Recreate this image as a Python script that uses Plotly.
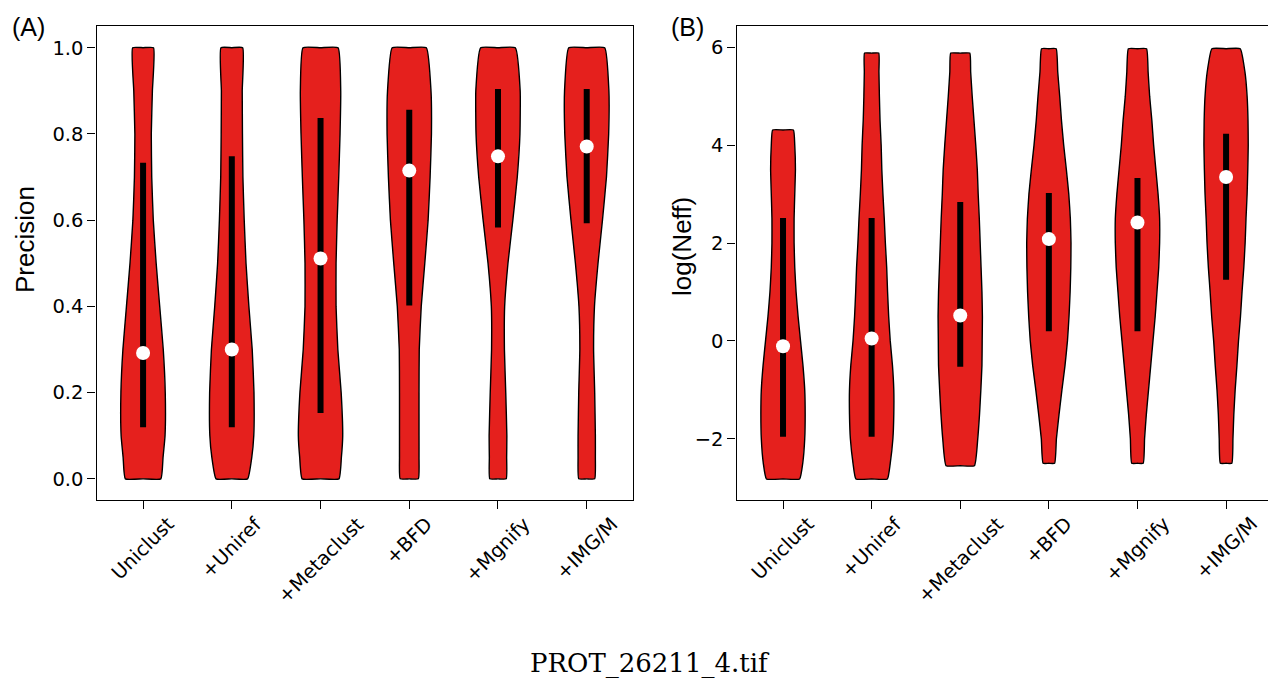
import plotly.graph_objects as go

# ---------------- data ----------------
categories = ["Uniclust", "+Uniref", "+Metaclust", "+BFD", "+Mgnify", "+IMG/M"]
positions = [1, 2, 3, 4, 5, 6]

# Panel A: Precision — relative violin width (1 = widest) at each level
prec_levels = [0.0, 0.05, 0.1, 0.2, 0.3, 0.4, 0.5, 0.6, 0.7, 0.8, 0.9, 1.0]
prec_w_uniclust = [0.80, 0.90, 0.99, 1.00, 0.91, 0.75, 0.59, 0.46, 0.39, 0.37, 0.42, 0.47]
prec_w_uniref = [0.71, 0.90, 0.99, 1.00, 0.92, 0.77, 0.64, 0.56, 0.50, 0.48, 0.47, 0.49]
prec_w_metaclust = [0.83, 0.94, 1.00, 0.93, 0.78, 0.70, 0.70, 0.75, 0.82, 0.88, 0.91, 0.79]
prec_w_bfd = [0.41, 0.44, 0.44, 0.44, 0.45, 0.54, 0.70, 0.85, 0.94, 1.00, 0.98, 0.77]
prec_w_mgnify = [0.37, 0.39, 0.40, 0.35, 0.29, 0.30, 0.45, 0.67, 0.87, 0.99, 1.00, 0.78]
prec_w_imgm = [0.36, 0.39, 0.39, 0.36, 0.31, 0.35, 0.51, 0.71, 0.89, 0.99, 1.00, 0.81]
prec_median = [0.292, 0.300, 0.511, 0.715, 0.748, 0.771]
prec_q_low = [0.120, 0.120, 0.153, 0.402, 0.583, 0.593]
prec_q_high = [0.733, 0.748, 0.837, 0.856, 0.904, 0.904]

# Panel B: log(Neff)
neff_levels_uniclust = [-2.82, -2.5, -2, -1.5, -1, -0.5, 0, 0.5, 1, 1.5, 2, 2.5, 3, 3.5, 4, 4.31]
neff_w_uniclust = [0.75, 0.89, 0.98, 1.00, 0.98, 0.90, 0.79, 0.68, 0.59, 0.53, 0.50, 0.50, 0.53, 0.56, 0.53, 0.47]
neff_levels_uniref = [-2.82, -2.5, -2, -1.5, -1, -0.5, 0, 0.5, 1, 1.5, 2, 2.5, 3, 3.5, 4, 4.5, 5, 5.5, 5.88]
neff_w_uniref = [0.71, 0.84, 0.96, 1.00, 1.00, 0.94, 0.84, 0.77, 0.72, 0.68, 0.62, 0.57, 0.51, 0.46, 0.43, 0.38, 0.35, 0.33, 0.32]
neff_levels_metaclust = [-2.55, -2, -1.5, -1, -0.5, 0, 0.5, 1, 1.5, 2, 2.5, 3, 3.5, 4, 4.5, 5, 5.5, 5.88]
neff_w_metaclust = [0.64, 0.79, 0.87, 0.93, 0.98, 0.99, 1.00, 0.98, 0.94, 0.90, 0.86, 0.81, 0.77, 0.70, 0.62, 0.54, 0.47, 0.43]
neff_levels_late = [-2.5, -2, -1.5, -1, -0.5, 0, 0.5, 1, 1.5, 2, 2.5, 3, 3.5, 4, 4.5, 5, 5.5, 5.97]
neff_w_bfd = [0.26, 0.34, 0.46, 0.59, 0.73, 0.84, 0.91, 0.96, 0.99, 1.00, 0.97, 0.90, 0.79, 0.67, 0.57, 0.49, 0.40, 0.33]
neff_w_mgnify = [0.26, 0.32, 0.40, 0.50, 0.60, 0.70, 0.80, 0.88, 0.96, 1.00, 1.00, 0.93, 0.83, 0.73, 0.65, 0.55, 0.48, 0.41]
neff_w_imgm = [0.26, 0.31, 0.35, 0.41, 0.49, 0.56, 0.65, 0.72, 0.80, 0.86, 0.90, 0.95, 0.98, 1.00, 0.99, 0.95, 0.85, 0.64]
neff_median = [-0.11, 0.05, 0.52, 2.08, 2.42, 3.35]
neff_q_low = [-1.96, -1.96, -0.53, 0.20, 0.20, 1.25]
neff_q_high = [2.51, 2.51, 2.84, 3.02, 3.33, 4.23]

# ---------------- style ----------------
VIOLIN_HALF = 0.25          # half of the violin width (widths = 0.5)
FILL = "#e5201d"
TICK_FONT = dict(family="DejaVu Sans", size=19.5, color="black")
TITLE_FONT = dict(family="Liberation Sans, Arial", size=26, color="black")

# The page body has an 8px margin; figure coordinates are screen - 8.
OFF = 8
W, H = 1276 - OFF, 684 - OFF


def px_x(sx):
    return (sx - OFF) / W


def px_y(sy):
    return 1 - (sy - OFF) / H


fig = go.Figure()


def add_panel(xaxis, yaxis, level_sets, width_sets, med, qlo, qhi):
    for pos, lv, wd in zip(positions, level_sets, width_sets):
        right_x = [pos + VIOLIN_HALF * w for w in wd]
        left_x = [pos - VIOLIN_HALF * w for w in reversed(wd)]
        # flat top and bottom edges go through the violin's centre
        xs = [pos] + right_x + [pos] + left_x + [pos]
        ys = [lv[0]] + list(lv) + [lv[-1]] + list(reversed(lv)) + [lv[0]]
        fig.add_trace(go.Scatter(
            x=xs, y=ys, xaxis=xaxis, yaxis=yaxis, mode="lines",
            fill="toself", fillcolor=FILL,
            line=dict(color="black", width=1.4, shape="spline", smoothing=0.4),
            showlegend=False, hoverinfo="skip"))
    for pos, lo, hi in zip(positions, qlo, qhi):
        fig.add_trace(go.Scatter(
            x=[pos, pos], y=[lo, hi], xaxis=xaxis, yaxis=yaxis, mode="lines",
            line=dict(color="black", width=6), showlegend=False, hoverinfo="skip"))
    fig.add_trace(go.Scatter(
        x=positions, y=med, xaxis=xaxis, yaxis=yaxis, mode="markers",
        marker=dict(color="white", size=14, line=dict(width=0)),
        showlegend=False, hoverinfo="skip"))


add_panel("x", "y",
          [prec_levels] * 6,
          [prec_w_uniclust, prec_w_uniref, prec_w_metaclust, prec_w_bfd, prec_w_mgnify, prec_w_imgm],
          prec_median, prec_q_low, prec_q_high)
add_panel("x2", "y2",
          [neff_levels_uniclust, neff_levels_uniref, neff_levels_metaclust,
           neff_levels_late, neff_levels_late, neff_levels_late],
          [neff_w_uniclust, neff_w_uniref, neff_w_metaclust, neff_w_bfd, neff_w_mgnify, neff_w_imgm],
          neff_median, neff_q_low, neff_q_high)

axis_common = dict(showline=True, linecolor="black", linewidth=1.4, mirror=True,
                   ticks="outside", ticklen=8, tickwidth=1.4, tickcolor="black",
                   showgrid=False, zeroline=False, tickfont=TICK_FONT, automargin=False)

ydom = [px_y(500), px_y(25.7)]

annotations = [
    dict(text="(A)", x=px_x(28), y=px_y(27), xref="paper", yref="paper",
         showarrow=False, xanchor="center", yanchor="middle",
         font=dict(family="Liberation Sans, Arial", size=25, color="black")),
    dict(text="(B)", x=px_x(687), y=px_y(27), xref="paper", yref="paper",
         showarrow=False, xanchor="center", yanchor="middle",
         font=dict(family="Liberation Sans, Arial", size=25, color="black")),
    dict(text="Precision", x=px_x(25), y=px_y(240), xref="paper", yref="paper",
         showarrow=False, xanchor="center", yanchor="middle", textangle=-90,
         font=TITLE_FONT),
    dict(text="log(Neff)", x=px_x(682), y=px_y(247), xref="paper", yref="paper",
         showarrow=False, xanchor="center", yanchor="middle", textangle=-90,
         font=TITLE_FONT),
    dict(text="PROT_26211_4.tif", x=px_x(650), y=px_y(663), xref="paper", yref="paper",
         showarrow=False, xanchor="center", yanchor="middle",
         font=dict(family="DejaVu Serif", size=26, color="black")),
]
# rotated category labels, centred under each tick (bounding-box top at the tick)
for xr in ("x", "x2"):
    for pos, name in zip(positions, categories):
        annotations.append(dict(
            text=name, x=pos, y=px_y(510), xref=xr, yref="paper",
            showarrow=False, xanchor="center", yanchor="top", textangle=-45,
            font=TICK_FONT))

fig.update_layout(
    template="none",
    width=W, height=H, margin=dict(l=0, r=0, t=0, b=0, pad=0),
    paper_bgcolor="white", plot_bgcolor="white",
    xaxis=dict(domain=[px_x(96.5), px_x(633.3)], range=[0.475, 6.525], anchor="y",
               tickvals=positions, showticklabels=False, **axis_common),
    yaxis=dict(domain=ydom, range=[-0.049, 1.051], anchor="x",
               tickvals=[0, 0.2, 0.4, 0.6, 0.8, 1.0], tickformat=".1f", **axis_common),
    xaxis2=dict(domain=[px_x(736.5), px_x(1272.6)], range=[0.475, 6.525], anchor="y2",
                tickvals=positions, showticklabels=False, **axis_common),
    yaxis2=dict(domain=ydom, range=[-3.25, 6.44], anchor="x2",
                tickvals=[-2, 0, 2, 4, 6], **axis_common),
    annotations=annotations,
)

fig.write_html("out.html")
